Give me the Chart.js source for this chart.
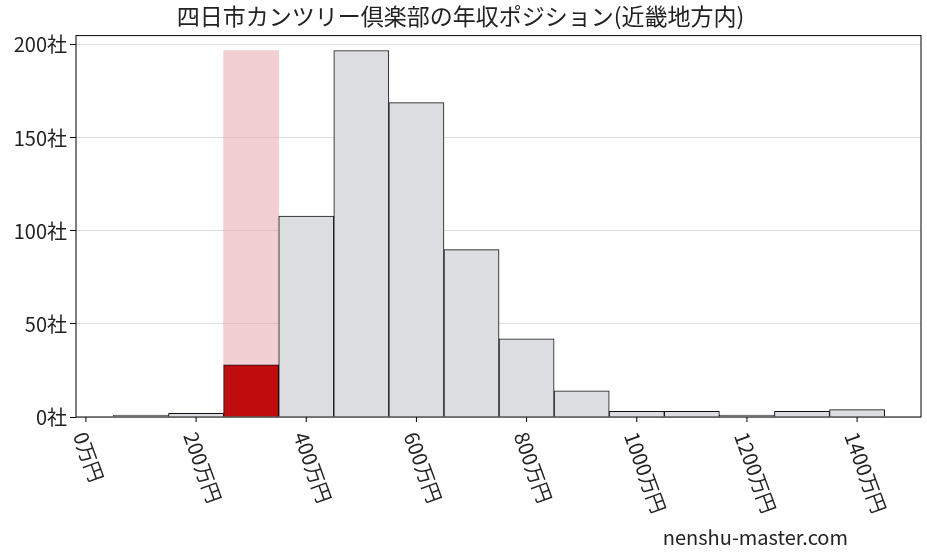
<!DOCTYPE html>
<html><head><meta charset="utf-8">
<script src="https://cdn.jsdelivr.net/npm/chart.js@4"></script>
<style>html,body{margin:0;background:#fff}#w{width:927px;height:557px}</style>
</head><body><div id="w"><canvas id="c"></canvas></div>
<script>
const binCenters=[100,200,300,400,500,600,700,800,900,1000,1100,1200,1300,1400];
const counts=[1,2,28,108,197,169,90,42,14,3,3,1,3,4];
const highlightBin=300;
const highlightMax=197;
const xTicks=[0,200,400,600,800,1000,1200,1400];
const yTicks=[0,50,100,150,200];
const FONT='"Noto Sans CJK JP", sans-serif';
const labelPlugin={id:'lbl',afterDraw(ch){
  const ctx=ch.ctx,sx=ch.scales.x,sy=ch.scales.y;
  ctx.save();ctx.fillStyle='#222';ctx.font='20px '+FONT;ctx.textBaseline='middle';
  xTicks.forEach(v=>{const px=sx.getPixelForValue(v);
    ctx.strokeStyle='#000';ctx.beginPath();ctx.moveTo(px,sy.bottom);ctx.lineTo(px,sy.bottom+5);ctx.stroke();
    ctx.save();ctx.translate(px-6,sy.bottom+16);ctx.rotate(70*Math.PI/180);ctx.textAlign='left';ctx.fillText(v+'万円',0,0);ctx.restore();});
  ctx.font='20px '+FONT;ctx.textAlign='right';ctx.fillText('nenshu-master.com',848,537);
  ctx.strokeStyle='#000';ctx.lineWidth=1;ctx.strokeRect(sx.left,sy.top,sx.right-sx.left,sy.bottom-sy.top);
  ctx.restore();}};
new Chart(document.getElementById('c'),{type:'bar',
data:{datasets:[
 {data:binCenters.map((x,i)=>({x,y:counts[i]})),backgroundColor:binCenters.map(x=>x===highlightBin?'#c00c0c':'#dcdde0'),borderColor:'#111',borderWidth:1,barPercentage:1,categoryPercentage:1,grouped:false,order:1},
 {data:[{x:highlightBin,y:highlightMax}],backgroundColor:'rgba(230,160,165,0.5)',borderWidth:0,barPercentage:1,categoryPercentage:1,grouped:false,order:2}
]},
options:{responsive:true,maintainAspectRatio:false,animation:false,
 layout:{padding:{left:0,right:6,top:0,bottom:0}},
 plugins:{legend:{display:false},tooltip:{enabled:false},
  title:{display:true,text:'四日市カンツリー倶楽部の年収ポジション(近畿地方内)',font:{family:FONT,size:23,weight:'normal'},color:'#222',padding:{top:2,bottom:6}}},
 scales:{
  x:{type:'linear',offset:false,min:-18,max:1516,grid:{display:false},border:{display:false},afterFit(s){s.height=140;},
     ticks:{callback:()=>'',stepSize:200}},
  y:{min:0,max:205,border:{display:false},grid:{color:'#ddd',drawTicks:true,tickLength:6,tickColor:'#000'},
     afterFit(s){s.width=76;},
     afterBuildTicks(s){s.ticks=yTicks.map(v=>({value:v}));},
     ticks:{color:'#222',font:{family:FONT,size:20},callback:v=>v+'社'}}
 }},
plugins:[labelPlugin]});
</script></body></html>
